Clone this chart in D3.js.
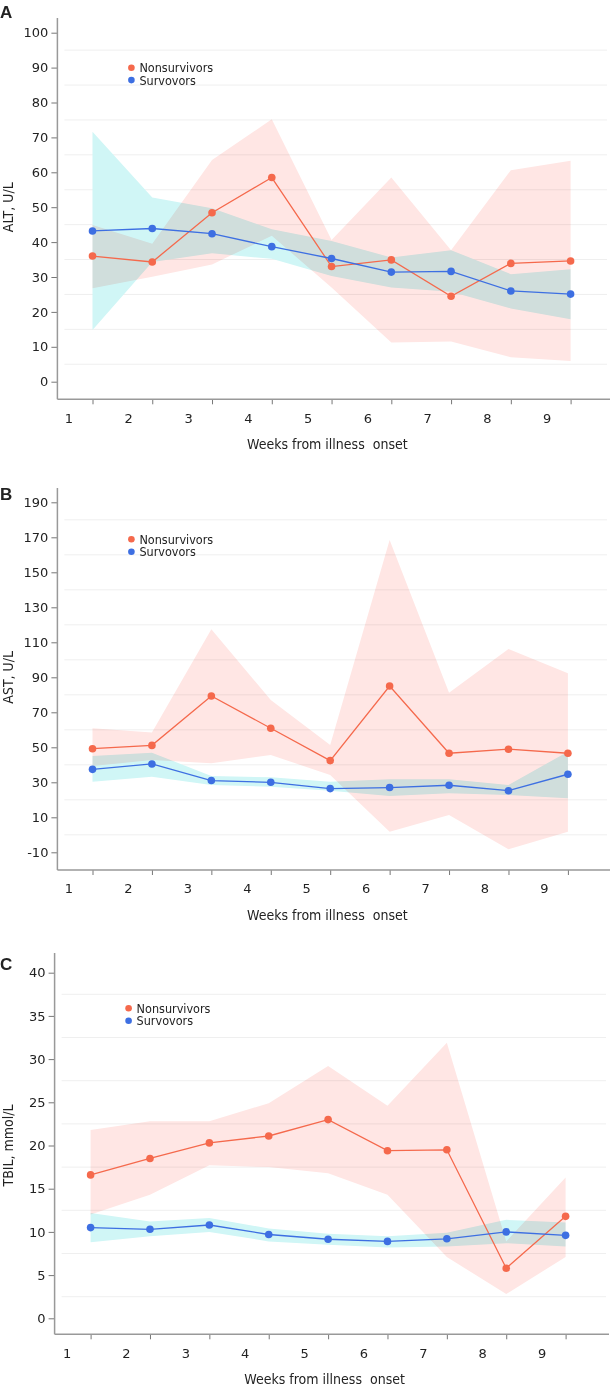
<!DOCTYPE html>
<html>
<head>
<meta charset="utf-8">
<script src="https://cdn.jsdelivr.net/npm/d3@7"></script>
<style>
  body { margin: 0; background: #fff; }
  text { font-family: "DejaVu Sans Condensed", "Liberation Sans", sans-serif; fill: #222; }
  .tick text { font-family: "DejaVu Sans", "Liberation Sans", sans-serif; font-size: 13px; }
</style>
</head>
<body>
<div id="chart"></div>
<script>
var weeks = [1, 2, 3, 4, 5, 6, 7, 8, 9];

// A: ALT, U/L
var altNon   = [36.0, 34.3, 48.4, 58.5, 33.0, 34.9, 24.5, 33.9, 34.6];
var altNonLo = [26.8, 30.1, 33.6, 41.8, 27.0, 11.2, 11.5, 7.0, 5.9];
var altNonHi = [44.9, 39.5, 63.5, 75.2, 40.6, 58.5, 37.7, 60.6, 63.3];
var altSur   = [43.2, 43.9, 42.4, 38.7, 35.3, 31.4, 31.6, 26.0, 25.1];
var altSurLo = [14.8, 34.3, 36.8, 35.2, 30.3, 27.0, 25.8, 21.0, 17.9];
var altSurHi = [71.6, 52.8, 49.7, 43.7, 40.3, 35.6, 37.7, 30.8, 32.2];

// B: AST, U/L
var astNon   = [49.2, 51.1, 79.3, 60.9, 42.4, 85.0, 46.6, 48.9, 46.6];
var astNonLo = [39.3, 42.7, 40.9, 45.6, 34.2, 1.8, 11.3, -8.3, 1.8];
var astNonHi = [60.9, 58.4, 117.4, 77.0, 51.3, 168.5, 81.2, 106.2, 92.3];
var astSur   = [37.4, 40.5, 31.0, 30.0, 26.4, 27.0, 28.3, 25.2, 34.6];
var astSurLo = [30.3, 33.2, 28.5, 27.5, 25.2, 22.2, 23.7, 22.8, 20.9];
var astSurHi = [45.0, 46.9, 33.6, 32.9, 30.3, 31.7, 31.7, 28.5, 47.5];

// C: TBIL, mmol/L
var tbilNon   = [16.6, 18.5, 20.3, 21.1, 23.0, 19.4, 19.5, 5.8, 11.8];
var tbilNonLo = [12.0, 14.3, 17.7, 17.5, 16.8, 14.3, 7.1, 2.8, 7.1];
var tbilNonHi = [21.8, 22.8, 22.8, 24.9, 29.2, 24.6, 31.9, 8.9, 16.3];
var tbilSur   = [10.5, 10.3, 10.8, 9.7, 9.15, 8.9, 9.2, 10.0, 9.6];
var tbilSurLo = [8.8, 9.5, 10.0, 8.9, 8.5, 8.2, 8.3, 8.7, 8.3];
var tbilSurHi = [12.2, 11.2, 11.6, 10.4, 9.8, 9.5, 9.9, 11.4, 11.1];

var altTicks  = d3.range(0, 101, 10);
var astTicks  = d3.range(-10, 191, 20);
var tbilTicks = d3.range(0, 41, 5);

var seriesNames = ["Nonsurvivors", "Survovors"];
var xTitle = "Weeks from illness  onset";

var red = "#f5694c", blue = "#3d6fe2";
var pinkBand = "#ffe6e4", cyanBand = "#d0f6f6";

var svg = d3.select("#chart").append("svg")
    .attr("width", 612)
    .attr("height", 1388);

var panels = [
  { letter: "A", yTitle: "ALT, U/L", ticks: altTicks, domain: [0, 100], yRange: [381.7, 32.7],
    axisTop: 18, axisY: 399.3, axisX: 57.4, xRange: [92.5, 570.6], right: 610,
    letterY: 18, legendY: 67.7,
    non: altNon, nonLo: altNonLo, nonHi: altNonHi, sur: altSur, surLo: altSurLo, surHi: altSurHi },
  { letter: "B", yTitle: "AST, U/L", ticks: astTicks, domain: [-10, 190], yRange: [852.3, 502.3],
    axisTop: 488, axisY: 870, axisX: 57.4, xRange: [92.5, 567.9], right: 610,
    letterY: 500, legendY: 539.3,
    non: astNon, nonLo: astNonLo, nonHi: astNonHi, sur: astSur, surLo: astSurLo, surHi: astSurHi },
  { letter: "C", yTitle: "TBIL, mmol/L", ticks: tbilTicks, domain: [0, 40], yRange: [1318.3, 972.7],
    axisTop: 953, axisY: 1334.3, axisX: 54.6, xRange: [90.6, 565.6], right: 609,
    letterY: 970, legendY: 1008.3,
    non: tbilNon, nonLo: tbilNonLo, nonHi: tbilNonHi, sur: tbilSur, surLo: tbilSurLo, surHi: tbilSurHi }
];

panels.forEach(function(p) {
    var g = svg.append("g");
    var x = d3.scalePoint().domain(weeks).range(p.xRange);
    var y = d3.scaleLinear().domain(p.domain).range(p.yRange);
    var step = p.ticks[1] - p.ticks[0];

    // faint gridlines, halfway between the ticks
    var grid = p.ticks.slice(0, -1).map(function(t) { return t + step / 2; });
    g.selectAll(".grid")
        .data(grid)
        .enter().append("line")
        .attr("x1", p.axisX + 7).attr("x2", p.right - 3)
        .attr("y1", function(d) { return y(d); })
        .attr("y2", function(d) { return y(d); })
        .attr("stroke", "#efefef")
        .attr("stroke-width", 1);

    // bands
    var band = function(lo, hi) {
        return d3.area()
            .x(function(d, i) { return x(weeks[i]); })
            .y0(function(d, i) { return y(lo[i]); })
            .y1(function(d, i) { return y(hi[i]); })(weeks);
    };
    g.append("path").attr("d", band(p.surLo, p.surHi)).attr("fill", cyanBand);
    g.append("path").attr("d", band(p.nonLo, p.nonHi)).attr("fill", pinkBand)
        .style("mix-blend-mode", "multiply");

    // lines + dots
    [[p.non, red], [p.sur, blue]].forEach(function(s) {
        var line = d3.line()
            .x(function(d, i) { return x(weeks[i]); })
            .y(function(d) { return y(d); });
        g.append("path").attr("d", line(s[0]))
            .attr("fill", "none").attr("stroke", s[1]).attr("stroke-width", 1.3);
        g.selectAll(null)
            .data(s[0])
            .enter().append("circle")
            .attr("cx", function(d, i) { return x(weeks[i]); })
            .attr("cy", function(d) { return y(d); })
            .attr("r", 3.8)
            .attr("fill", s[1]);
    });

    // y axis
    var ya = g.append("g")
        .attr("transform", "translate(" + p.axisX + ",0)")
        .call(d3.axisLeft(y).tickValues(p.ticks).tickSize(6).tickPadding(3)
            .tickFormat(function(d) { return String(d); }));
    ya.select(".domain").remove();
    ya.selectAll(".tick line").attr("stroke", "#777");
    g.append("line")
        .attr("x1", p.axisX).attr("x2", p.axisX)
        .attr("y1", p.axisTop).attr("y2", p.axisY)
        .attr("stroke", "#999").attr("stroke-width", 1.5);

    // x axis
    var xa = g.append("g")
        .attr("transform", "translate(0," + p.axisY + ")")
        .call(d3.axisBottom(x).tickSize(5).tickPadding(9));
    xa.select(".domain").remove();
    xa.selectAll(".tick line").attr("stroke", "#777");
    xa.selectAll(".tick text").attr("dx", -24);
    g.append("line")
        .attr("x1", p.axisX).attr("x2", p.right)
        .attr("y1", p.axisY).attr("y2", p.axisY)
        .attr("stroke", "#999").attr("stroke-width", 1.5);

    // titles
    g.append("text")
        .attr("x", p.axisX + 270)
        .attr("y", p.axisY + 50)
        .attr("text-anchor", "middle")
        .style("font-size", "14px")
        .style("white-space", "pre")
        .text(xTitle);
    g.append("text")
        .attr("transform", "translate(13," + (y(p.domain[0]) + y(p.domain[1])) / 2 + ") rotate(-90)")
        .attr("text-anchor", "middle")
        .style("font-size", "14px")
        .text(p.yTitle);
    g.append("text")
        .attr("x", 0).attr("y", p.letterY)
        .style("font-family", "'Liberation Sans', Arial, sans-serif")
        .style("font-weight", "bold")
        .style("font-size", "17px")
        .text(p.letter);

    // legend
    var lg = g.append("g").attr("transform", "translate(" + (p.axisX + 74) + "," + p.legendY + ")");
    seriesNames.forEach(function(name, i) {
        lg.append("circle").attr("cx", 0).attr("cy", i * 12.4).attr("r", 3.3)
            .attr("fill", i === 0 ? red : blue);
        lg.append("text").attr("x", 8).attr("y", i * 12.4 + 4.5)
            .style("font-size", "12.5px")
            .text(name);
    });
});
</script>
</body>
</html>
